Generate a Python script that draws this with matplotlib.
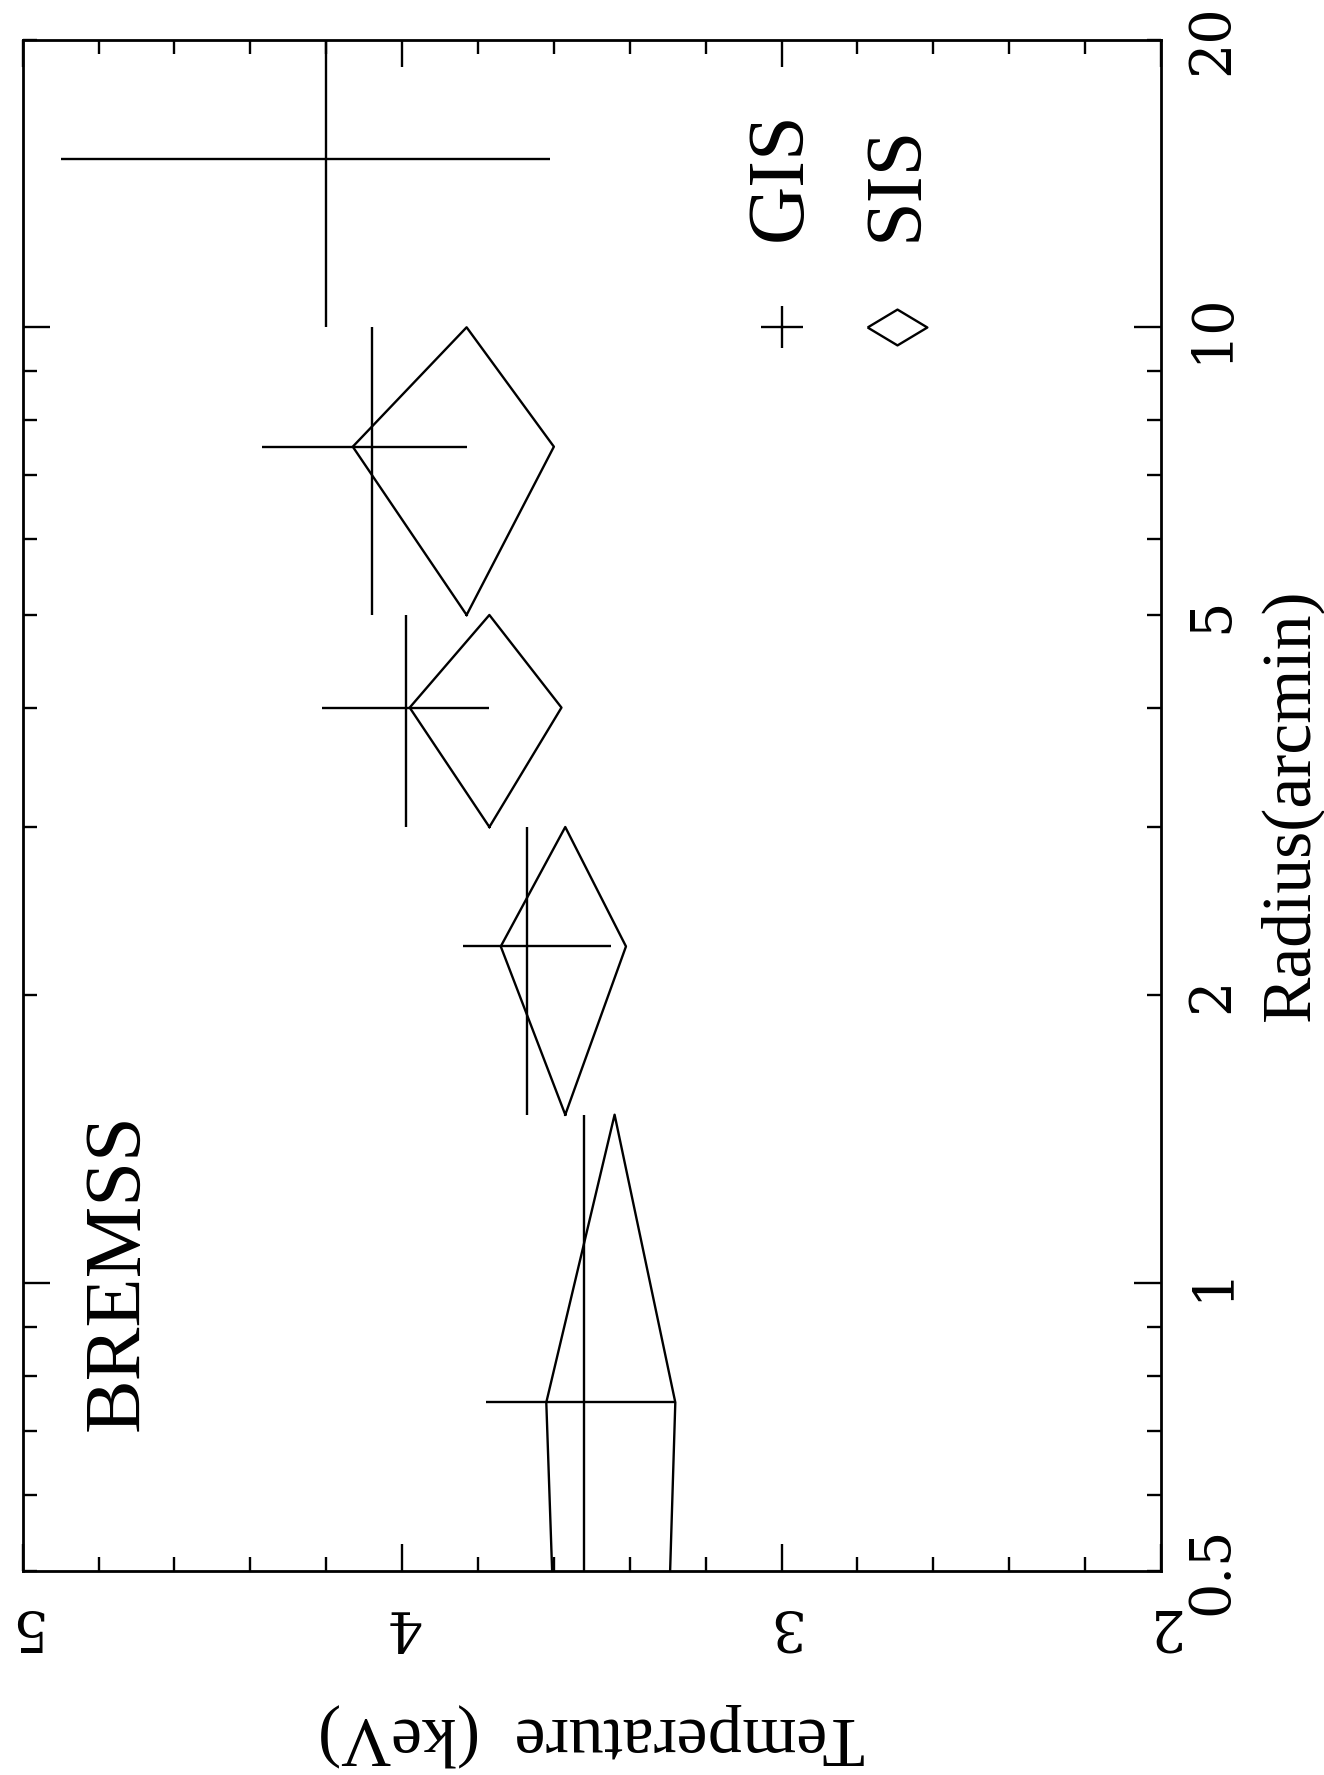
"""Radial temperature profile (GIS crosses, SIS diamonds), drawn rotated like the original print."""

import matplotlib
matplotlib.use('Agg')
import matplotlib.pyplot as plt
from matplotlib.ticker import FixedLocator, FuncFormatter, MultipleLocator

# radial bins (arcmin)
gis_r = [0.75, 2.25, 4.0, 7.5, 15.0]
gis_r_lo = [0.0, 1.5, 3.0, 5.0, 10.0]
gis_r_hi = [1.5, 3.0, 5.0, 10.0, 20.0]
# GIS temperatures (keV)
gis_t = [3.52, 3.67, 3.99, 4.08, 4.20]
gis_t_lo = [3.28, 3.45, 3.77, 3.83, 3.61]
gis_t_hi = [3.78, 3.84, 4.21, 4.37, 4.90]

# SIS bins; the innermost edge is the point where the clipped diamond closes
sis_r = [0.75, 2.25, 4.0, 7.5]
sis_r_lo = [0.0065, 1.5, 3.0, 5.0]
sis_r_hi = [1.5, 3.0, 5.0, 10.0]
sis_t = [3.44, 3.57, 3.77, 3.83]
sis_t_lo = [3.28, 3.41, 3.58, 3.60]
sis_t_hi = [3.62, 3.74, 3.98, 4.13]

r_labels = [0.5, 1, 2, 5, 10, 20]
t_ticks = [2, 3, 4, 5]

lw = 1.7
serif = ['Liberation Serif', 'DejaVu Serif']
digits = ['DejaVu Serif']

fig = plt.figure(figsize=(13.24, 17.75), dpi=100)
ax = fig.add_axes([0.0171, 0.1151, 0.8598, 0.8626])

# GIS: plain crosses
ax.errorbar(gis_t, gis_r,
            xerr=[[t - lo for t, lo in zip(gis_t, gis_t_lo)],
                  [hi - t for t, hi in zip(gis_t, gis_t_hi)]],
            yerr=[[r - lo for r, lo in zip(gis_r, gis_r_lo)],
                  [hi - r for r, hi in zip(gis_r, gis_r_hi)]],
            fmt='none', ecolor='black', elinewidth=lw, capsize=0)

# SIS: diamonds joining the error bar ends
for t, tl, th, r, rl, rh in zip(sis_t, sis_t_lo, sis_t_hi, sis_r, sis_r_lo, sis_r_hi):
    ax.plot([t, th, t, tl, t], [rl, r, rh, r, rl], color='black', lw=lw)

ax.set_yscale('log')
ax.set_ylim(0.5, 20)
ax.set_xlim(5, 2)

# legend and label, placed like the original
ax.plot([3.0], [10], marker='+', markersize=30, mew=lw, color='black')
ax.plot([2.696], [10], marker=[(-1, 0), (0, 0.6), (1, 0), (0, -0.6), (-1, 0)],
        markersize=43, mew=lw, mfc='none', mec='black', ls='none')
ax.text(3.0, 12.3, 'GIS', rotation=90, ha='center', va='bottom', fontsize=58, family=serif)
ax.text(2.696, 12.3, 'SIS', rotation=90, ha='center', va='bottom', fontsize=58, family=serif)
ax.text(4.746, 0.70, 'BREMSS', rotation=90, ha='center', va='bottom', fontsize=58, family=serif)

# radius axis (vertical, labels on the right)
ax.yaxis.tick_right()
ax.yaxis.set_major_locator(FixedLocator([1, 10]))
ax.yaxis.set_minor_locator(FixedLocator([0.5, 0.6, 0.7, 0.8, 0.9, 2, 3, 4, 5, 6, 7, 8, 9, 20]))
fmt = FuncFormatter(lambda v, pos: ('%g' % v) if any(abs(v - l) < 1e-6 for l in r_labels) else '')
ax.yaxis.set_major_formatter(fmt)
ax.yaxis.set_minor_formatter(fmt)

# temperature axis (horizontal, upside-down labels)
ax.xaxis.set_major_locator(FixedLocator(t_ticks))
ax.xaxis.set_minor_locator(MultipleLocator(0.2))
ax.xaxis.set_major_formatter(FuncFormatter(lambda v, pos: '%d' % round(v)))

ax.tick_params(which='both', direction='in', left=True, right=True, top=True, bottom=True,
               width=lw, colors='black')
ax.tick_params(which='major', length=19.5)
ax.tick_params(which='minor', length=9.8)
ax.tick_params(axis='y', which='both', labelleft=False, labelright=True, labelrotation=90, pad=17)
ax.tick_params(axis='x', which='both', labelrotation=180, pad=20)

for lbl in ax.get_yticklabels(which='both'):
    lbl.set_verticalalignment('center')
    lbl.set_fontfamily(digits)
    lbl.set_fontsize(40)
for lbl in ax.get_xticklabels(which='both'):
    lbl.set_fontfamily(digits)
    lbl.set_fontsize(40)

for s in ax.spines.values():
    s.set_linewidth(2.0)

ax.yaxis.set_label_position('right')
ax.set_ylabel('Radius(arcmin)', rotation=90, fontsize=50, family=serif, labelpad=14)
ax.set_xlabel('Temperature  (keV)', rotation=180, fontsize=50, family=serif, labelpad=36)

fig.savefig('out.png', dpi=100)
